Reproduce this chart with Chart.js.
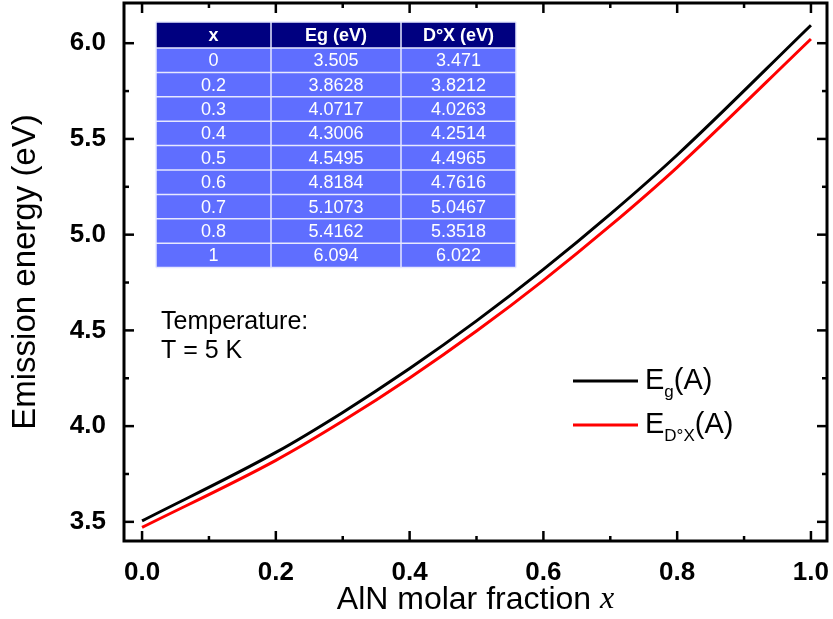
<!DOCTYPE html>
<html>
<head>
<meta charset="utf-8">
<script src="https://cdn.jsdelivr.net/npm/chart.js@4.4.1/dist/chart.umd.min.js"></script>
<style>
  body { margin: 0; background: #fff; }
  #wrap { width: 833px; height: 619px; position: relative; }
</style>
</head>
<body>
<div id="wrap"><canvas id="myChart"></canvas></div>
<script>
// AlN molar fraction and energies (eV), as listed in the inset table
var fractions = [0, 0.2, 0.3, 0.4, 0.5, 0.6, 0.7, 0.8, 1];
var egValues = [3.505, 3.8628, 4.0717, 4.3006, 4.5495, 4.8184, 5.1073, 5.4162, 6.094];
var dxValues = [3.471, 3.8212, 4.0263, 4.2514, 4.4965, 4.7616, 5.0467, 5.3518, 6.022];

var xTicks = [0, 0.2, 0.4, 0.6, 0.8, 1.0];
var xMinor = [0.1, 0.3, 0.5, 0.7, 0.9];
var yTicks = [3.5, 4.0, 4.5, 5.0, 5.5, 6.0];
var yMinor = [3.75, 4.25, 4.75, 5.25, 5.75];

var tableHeader = ['x', 'Eg (eV)', 'D°X (eV)'];

function pts(ys) {
    return fractions.map(function (f, i) { return { x: f, y: ys[i] }; });
}

// frame, inward ticks, inset table, notes and legend
var decorations = {
    id: 'decorations',
    afterDraw: function (chart) {
        var ctx = chart.ctx;
        var a = chart.chartArea;
        var x = chart.scales.x, y = chart.scales.y;
        ctx.save();
        ctx.strokeStyle = '#000';
        ctx.lineWidth = 3;
        ctx.strokeRect(a.left, a.top, a.right - a.left, a.bottom - a.top);

        function seg(x1, y1, x2, y2) {
            ctx.beginPath(); ctx.moveTo(x1, y1); ctx.lineTo(x2, y2); ctx.stroke();
        }
        ctx.lineWidth = 2.5;
        xTicks.forEach(function (v) {
            var p = x.getPixelForValue(v);
            seg(p, a.bottom, p, a.bottom - 10); seg(p, a.top, p, a.top + 10);
        });
        xMinor.forEach(function (v) {
            var p = x.getPixelForValue(v);
            seg(p, a.bottom, p, a.bottom - 5); seg(p, a.top, p, a.top + 5);
        });
        yTicks.forEach(function (v) {
            var p = y.getPixelForValue(v);
            seg(a.left, p, a.left + 10, p); seg(a.right, p, a.right - 10, p);
        });
        yMinor.forEach(function (v) {
            var p = y.getPixelForValue(v);
            seg(a.left, p, a.left + 5, p); seg(a.right, p, a.right - 5, p);
        });

        // x axis title with italic x
        ctx.fillStyle = '#000';
        ctx.textBaseline = 'middle';
        var t1 = 'AlN molar fraction ';
        ctx.font = '32px Arial, "Liberation Sans"';
        var w1 = ctx.measureText(t1).width;
        ctx.font = 'italic 32px "Liberation Serif"';
        var w2 = ctx.measureText('x').width;
        var sx = (a.left + a.right) / 2 - (w1 + w2) / 2;
        ctx.font = '32px Arial, "Liberation Sans"';
        ctx.textAlign = 'left';
        ctx.fillText(t1, sx, 600);
        ctx.font = 'italic 32px "Liberation Serif"';
        ctx.fillText('x', sx + w1, 600);

        // inset table
        var cols = [156, 271, 401, 516];
        var top = 22, headH = 26, rowH = 24.4;
        ctx.fillStyle = '#000080';
        ctx.fillRect(cols[0], top, cols[3] - cols[0], headH);
        ctx.fillStyle = '#5f6eff';
        ctx.fillRect(cols[0], top + headH, cols[3] - cols[0], rowH * fractions.length);
        ctx.strokeStyle = '#e6e8ff';
        ctx.lineWidth = 1.5;
        for (var r = 0; r <= fractions.length; r++) {
            var ry = top + headH + r * rowH;
            seg(cols[0], ry, cols[3], ry);
        }
        seg(cols[0], top, cols[3], top);
        cols.forEach(function (c) { seg(c, top, c, top + headH + rowH * fractions.length); });
        ctx.fillStyle = '#fff';
        ctx.textAlign = 'center';
        ctx.font = 'bold 18px Arial, "Liberation Sans"';
        tableHeader.forEach(function (h, i) {
            ctx.fillText(h, (cols[i] + cols[i + 1]) / 2, top + headH / 2 + 1);
        });
        ctx.font = '18px Arial, "Liberation Sans"';
        fractions.forEach(function (f, r) {
            var cy = top + headH + r * rowH + rowH / 2 + 1;
            [String(f), String(egValues[r]), String(dxValues[r])].forEach(function (s, i) {
                ctx.fillText(s, (cols[i] + cols[i + 1]) / 2, cy);
            });
        });

        // temperature note
        ctx.fillStyle = '#000';
        ctx.textAlign = 'left';
        ctx.font = '25px Arial, "Liberation Sans"';
        ctx.fillText('Temperature:', 161, 322);
        ctx.fillText('T = 5 K', 161, 351);

        // legend with subscripts
        var items = [
            { color: '#000', sub: 'g', yy: 381 },
            { color: '#ff0000', sub: 'D°X', yy: 425 }
        ];
        items.forEach(function (it) {
            ctx.strokeStyle = it.color;
            ctx.lineWidth = 3;
            seg(573, it.yy, 638, it.yy);
            ctx.fillStyle = '#000';
            ctx.font = '29px Arial, "Liberation Sans"';
            var px = 645;
            ctx.fillText('E', px, it.yy);
            px += ctx.measureText('E').width;
            ctx.font = '17px Arial, "Liberation Sans"';
            ctx.fillText(it.sub, px, it.yy + 11);
            px += ctx.measureText(it.sub).width;
            ctx.font = '29px Arial, "Liberation Sans"';
            ctx.fillText('(A)', px, it.yy);
        });
        ctx.restore();
    }
};

document.addEventListener('DOMContentLoaded', function () {
    var ctx = document.getElementById('myChart').getContext('2d');

    new Chart(ctx, {
        type: 'line',
        data: {
            datasets: [{
                label: 'Eg(A)',
                data: pts(egValues),
                borderColor: '#000000',
                borderWidth: 3,
                pointRadius: 0,
                cubicInterpolationMode: 'monotone'
            }, {
                label: 'ED°X(A)',
                data: pts(dxValues),
                borderColor: '#ff0000',
                borderWidth: 3,
                pointRadius: 0,
                cubicInterpolationMode: 'monotone'
            }]
        },
        options: {
            responsive: true,
            maintainAspectRatio: false,
            animation: false,
            layout: { autoPadding: false, padding: { top: 3, right: 6, left: 0, bottom: 0 } },
            plugins: {
                legend: { display: false },
                tooltip: { enabled: false }
            },
            scales: {
                x: {
                    type: 'linear',
                    min: -0.027,
                    max: 1.024,
                    grid: { display: false },
                    border: { display: false },
                    afterBuildTicks: function (s) {
                        s.ticks = xTicks.map(function (v) { return { value: v }; });
                    },
                    afterFit: function (s) {
                        s.height = 78;
                        s.paddingLeft = 0; s.paddingRight = 0;
                    },
                    ticks: {
                        color: '#000',
                        padding: 8,
                        maxRotation: 0,
                        font: { family: 'Arial, "Liberation Sans"', size: 26, weight: 'bold' },
                        callback: function (v) { return Number(v).toFixed(1); }
                    }
                },
                y: {
                    min: 3.4,
                    max: 6.21,
                    grid: { display: false },
                    border: { display: false },
                    afterBuildTicks: function (s) {
                        s.ticks = yTicks.map(function (v) { return { value: v }; });
                    },
                    afterFit: function (s) {
                        s.width = 124;
                        s.paddingTop = 0; s.paddingBottom = 0;
                    },
                    title: {
                        display: true,
                        text: 'Emission energy (eV)',
                        color: '#000',
                        padding: { top: 6, bottom: 0 },
                        font: { family: 'Arial, "Liberation Sans"', size: 33 }
                    },
                    ticks: {
                        color: '#000',
                        padding: 10,
                        font: { family: 'Arial, "Liberation Sans"', size: 26, weight: 'bold' },
                        callback: function (v) { return Number(v).toFixed(1); }
                    }
                }
            }
        },
        plugins: [decorations]
    });
});
</script>
</body>
</html>
